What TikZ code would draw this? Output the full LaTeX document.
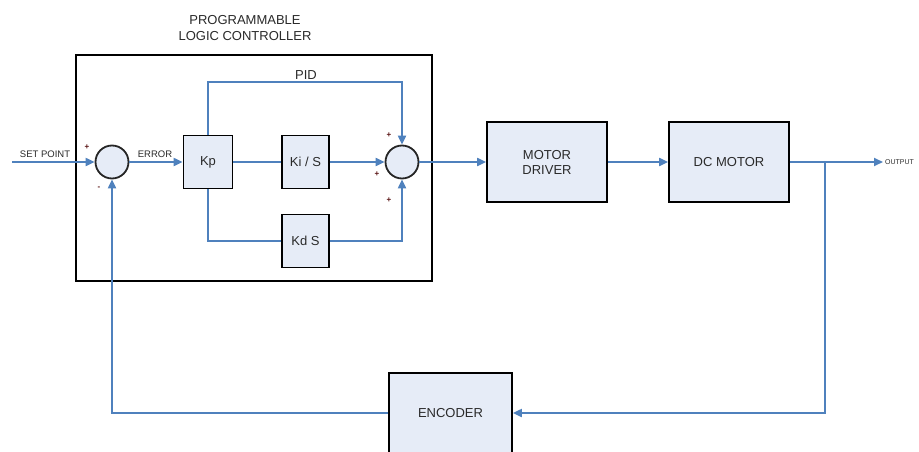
\documentclass[tikz,border=0pt]{standalone}
\usepackage{fontspec}
\setmainfont{Liberation Sans}
\usetikzlibrary{arrows.meta}
\definecolor{lineblue}{HTML}{4F81BD}
\definecolor{boxfill}{HTML}{E6ECF7}
\definecolor{txt}{HTML}{2A2A2A}
\definecolor{signcol}{HTML}{5A1414}
\begin{document}
\begin{tikzpicture}[x=1pt,y=-1pt,
  blk/.style={draw=black, line width=1.8pt, fill=boxfill, inner sep=0pt, text=txt,
    font=\fontsize{13}{15}\selectfont, align=center},
  sumc/.style={circle, draw=black!85, line width=1.8pt, fill=boxfill, minimum size=33pt, inner sep=0pt},
  wire/.style={draw=lineblue, line width=2pt},
  conn/.style={wire, -{Triangle[length=9pt,width=8pt]}},
  lbl/.style={text=txt, inner sep=0pt, font=\fontsize{13}{16}\selectfont, align=center},
  slbl/.style={text=txt, inner sep=0pt, font=\fontsize{9.5}{11}\selectfont},
  sgn/.style={text=signcol, inner sep=0pt, font=\fontsize{8}{8}\selectfont\bfseries}]
\useasboundingbox (0,0) rectangle (919,452);
\fill[white] (0,0) rectangle (919,452);

% PLC frame
\draw[black, line width=1.8pt] (76,55) rectangle (432,281);
\node[lbl] (title) at (245,28) {PROGRAMMABLE\\LOGIC CONTROLLER};
\node[lbl] (pid) at (306,75) {PID};

% blocks
\node[sumc] (s1) at (112,162) {};
\node[sumc] (s2) at (402,162) {};
\node[blk, minimum width=49pt, minimum height=53pt] (kp) at (208,162) {Kp};
\node[blk, minimum width=47pt, minimum height=53pt] (ki) at (305.5,162) {Ki / S};
\node[blk, minimum width=47pt, minimum height=53pt] (kd) at (305.5,241) {Kd S};
\node[blk, minimum width=120pt, minimum height=80pt] (md) at (547,162) {MOTOR\\DRIVER};
\node[blk, minimum width=120pt, minimum height=80pt] (dc) at (729,162) {DC MOTOR};
\node[blk, minimum width=123pt, minimum height=80pt] (enc) at (450.5,413) {ENCODER};

% signs
\node[sgn] (p1) at (87,147) {+};
\node[sgn] (m1) at (99,188) {-};
\node[sgn] (p2) at (389,135) {+};
\node[sgn] (p3) at (377,174) {+};
\node[sgn] (p4) at (389,200) {+};

% labels
\node[slbl] (splbl) at (45,154) {SET POINT};
\node[slbl] (errlbl) at (155,154) {ERROR};
\node[slbl, anchor=west, font=\fontsize{7}{8}\selectfont] (outlbl) at (885,162) {OUTPUT};

% coordinates
\coordinate (sp) at (12,162);
\coordinate (pidtop) at (402,82);
\coordinate (out) at (883,162);
\coordinate (br) at (825,162);

% connectors
\draw[conn] (sp) -- (s1.west);
\draw[conn] (s1.east) -- (kp.west);
\draw[wire] (kp.east) -- (ki.west);
\draw[conn] (ki.east) -- (s2.west);
\draw[conn] (kp.north) |- (pidtop) -- (s2.north);
\draw[wire] (kp.south) |- (kd.west);
\draw[conn] (kd.east) -| (s2.south);
\draw[conn] (s2.east) -- (md.west);
\draw[conn] (md.east) -- (dc.west);
\draw[conn] (dc.east) -- (out);
\draw[conn] (br) |- (enc.east);
\draw[conn] (enc.west) -| (s1.south);
\end{tikzpicture}
\end{document}
